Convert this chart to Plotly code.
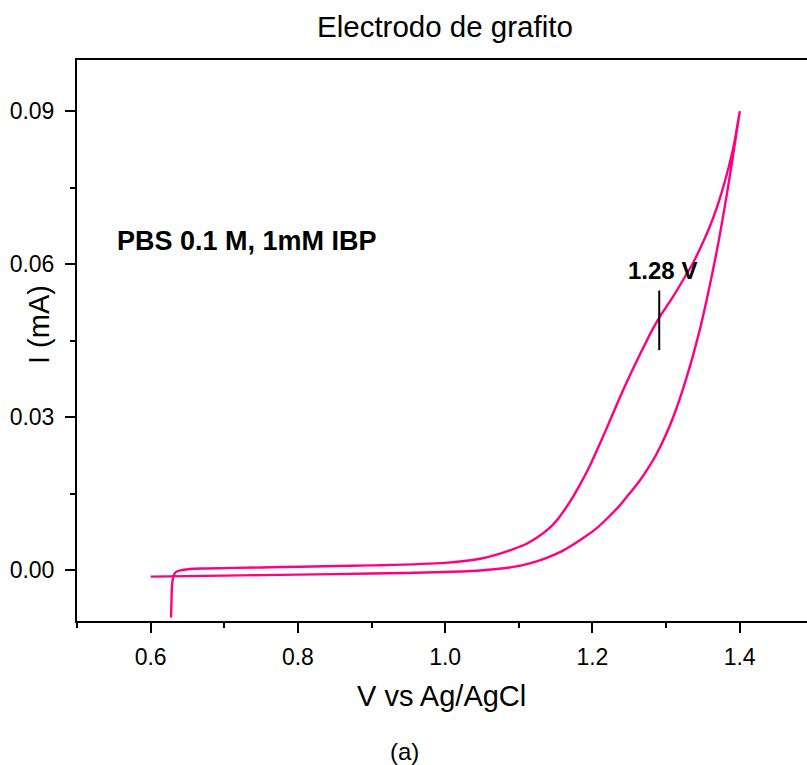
import plotly.graph_objects as go

# ---- data ----
V_forward = [0.6277, 0.6285, 0.6292, 0.6308, 0.6331, 0.6370, 0.6430, 0.6535, 0.6766, 0.75, 0.8029,
             0.90, 1.00, 1.0474, 1.0700, 1.0926, 1.1100, 1.1244, 1.1400, 1.1515, 1.1696, 1.1830,
             1.1968, 1.2100, 1.2239, 1.2360, 1.2466, 1.2570, 1.2650, 1.2730, 1.2806, 1.2909,
             1.3000, 1.3100, 1.3258, 1.3360, 1.3462, 1.3580, 1.3689, 1.3824, 1.3920, 1.4000]
I_forward = [-0.0093, -0.0050, -0.0027, -0.0014, -0.0006, -0.0002, 0.0000, 0.0002, 0.0003, 0.0005, 0.00065,
             0.0009, 0.0014, 0.0022, 0.0030, 0.0041, 0.0051, 0.0063, 0.0080, 0.0097, 0.0134, 0.0167,
             0.0205, 0.0247, 0.0293, 0.0334, 0.0368, 0.0400, 0.0424, 0.0447, 0.0469, 0.0495,
             0.0515, 0.0537, 0.0575, 0.0600, 0.0630, 0.0668, 0.0710, 0.0775, 0.0832, 0.0898]
V_reverse = [1.3950, 1.3892, 1.3801, 1.3689, 1.3553, 1.3440, 1.3281, 1.3099, 1.2873, 1.2647, 1.2466,
             1.2375, 1.2200, 1.2059, 1.1900, 1.1741, 1.1560, 1.1380, 1.1150, 1.0926, 1.0474,
             1.00, 0.90, 0.80, 0.70, 0.60]
I_reverse = [0.0850, 0.0795, 0.0715, 0.0625, 0.0530, 0.0460, 0.0378, 0.0300, 0.0228, 0.0176, 0.0143,
             0.0127, 0.0101, 0.0082, 0.0065, 0.0050, 0.0035, 0.0024, 0.0013, 0.0006, -0.0001,
             -0.0004, -0.0007, -0.0009, -0.0011, -0.0013]

peak_V = 1.2908
peak_I_span = [0.0431, 0.0548]
peak_label = "1.28 V"

x_tickvals = [0.6, 0.8, 1.0, 1.2, 1.4]
x_ticktext = ["0.6", "0.8", "1.0", "1.2", "1.4"]
y_tickvals = [0.0, 0.03, 0.06, 0.09]
y_ticktext = ["0.00", "0.03", "0.06", "0.09"]

title_text = "Electrodo de grafito"
x_title = "V vs Ag/AgCl"
y_title = "I (mA)"
inset_text = "PBS 0.1 M, 1mM IBP"
caption = "(a)"

# ---- layout geometry ----
W, H = 807, 765
L, R, T, B = 77, 0, 60, 144
PW, PH = W - L - R, H - T - B

def px(x):
    return (x - L) / PW

def py(y):
    return (H - B - y) / PH

FONT = "Liberation Sans, Arial, sans-serif"
PINK = "rgb(255,0,128)"

fig = go.Figure()
fig.add_trace(go.Scatter(
    x=V_forward + V_reverse, y=I_forward + I_reverse,
    mode="lines", line=dict(color=PINK, width=2.4, shape="spline", smoothing=0.8),
    showlegend=False, hoverinfo="skip"))
fig.add_trace(go.Scatter(
    x=[peak_V, peak_V], y=peak_I_span, mode="lines",
    line=dict(color="black", width=2), showlegend=False, hoverinfo="skip"))

axis_common = dict(showline=True, linecolor="black", linewidth=2, showgrid=False, zeroline=False,
                   ticks="outside", ticklen=10, tickwidth=2, tickcolor="black",
                   tickfont=dict(family=FONT, size=23, color="black"))

fig.update_xaxes(range=[0.5, 0.5 + (PW / 736.25)], tickvals=x_tickvals, ticktext=x_ticktext,
                 mirror=True, ticklabelstandoff=4,
                 minor=dict(ticks="outside", ticklen=5, tickwidth=2, tickcolor="black",
                            dtick=0.1, tick0=0.5),
                 **axis_common)
fig.update_yaxes(range=[-0.01, 0.1], tickvals=y_tickvals, ticktext=y_ticktext,
                 ticklabelstandoff=6,
                 minor=dict(ticks="outside", ticklen=5, tickwidth=2, tickcolor="black",
                            dtick=0.015, tick0=0.0),
                 **axis_common)

ann = [
    dict(text=title_text, x=px(445.5), y=py(27), font=dict(size=29.5)),
    dict(text=x_title, x=px(441), y=py(696), font=dict(size=29)),
    dict(text=caption, x=px(404), y=py(751), font=dict(size=24)),
    dict(text=y_title, x=px(39), y=py(325), font=dict(size=29), textangle=-90),
    dict(text="<b>" + inset_text + "</b>", x=px(115), y=py(241), xanchor="left", font=dict(size=27)),
    dict(text="<b>" + peak_label + "</b>", x=px(662.5), y=py(270), font=dict(size=24)),
]
for a in ann:
    a.setdefault("xanchor", "center")
    a["font"]["family"] = FONT
    a["font"]["color"] = "black"
    fig.add_annotation(xref="paper", yref="paper", yanchor="middle", showarrow=False, **a)

fig.update_layout(width=W, height=H, margin=dict(l=L, r=R, t=T, b=B, pad=0),
                  plot_bgcolor="white", paper_bgcolor="white",
                  font=dict(family=FONT, color="black"))

fig.write_html("out.html")
